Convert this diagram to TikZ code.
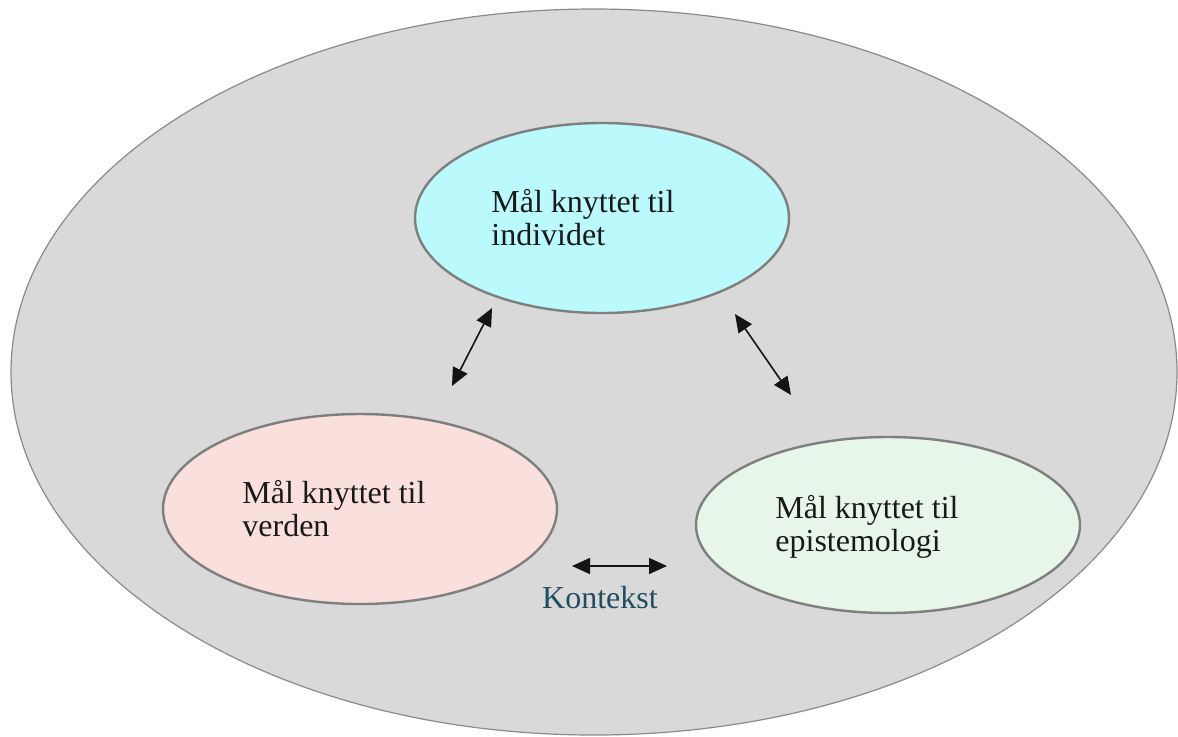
\documentclass[tikz,border=0pt]{standalone}
\usepackage{fontspec}
\setmainfont{Liberation Serif}
\usetikzlibrary{arrows.meta}
\definecolor{outerfill}{HTML}{D9D9D9}
\definecolor{outerdraw}{HTML}{8A8A8A}
\definecolor{ringdraw}{HTML}{7F7F7F}
\definecolor{cyanfill}{HTML}{BAF9FC}
\definecolor{pinkfill}{HTML}{F9E0DC}
\definecolor{greenfill}{HTML}{E8F6EA}
\definecolor{kontekst}{HTML}{1D4F60}
\definecolor{arrowcol}{HTML}{141414}
\tikzset{
  goal/.style={draw=ringdraw, line width=1.2pt},
  goaltext/.style={anchor=base west, inner sep=0pt, align=left, font=\fontsize{16}{16.5}\selectfont, text=black!90},
  link/.style={draw=arrowcol, line width=0.8pt, {Triangle[length=9pt,width=8pt]}-{Triangle[length=9pt,width=8pt]}}
}
\begin{document}
\begin{tikzpicture}[x=0.5pt,y=-0.5pt]
\useasboundingbox (0,0) rectangle (1178,736);
% outer context ellipse
\fill[outerfill, draw=outerdraw, line width=0.6pt] (594,372) ellipse [x radius=583, y radius=363];
% goal ellipses
\path[goal, fill=cyanfill] (602,218) ellipse [x radius=187, y radius=95];
\path[goal, fill=pinkfill] (360,509) ellipse [x radius=197, y radius=95];
\path[goal, fill=greenfill] (888,525) ellipse [x radius=192, y radius=88];
% texts (anchor = baseline of last line)
\node[goaltext] (tind) at (491,245) {Mål knyttet til\\individet};
\node[goaltext] (tver) at (242,536) {Mål knyttet til\\verden};
\node[goaltext] (tepi) at (775,551) {Mål knyttet til\\epistemologi};
\node[anchor=base, inner sep=0pt, text=kontekst, font=\fontsize{16}{16.5}\selectfont] (kont) at (600,608) {Kontekst};
% arrow end points
\coordinate (a1) at (492,308);
\coordinate (a2) at (452,386);
\coordinate (b1) at (735,314);
\coordinate (b2) at (791,395);
\coordinate (c1) at (572,566);
\coordinate (c2) at (667,566);
\draw[link] (a1) -- (a2);
\draw[link] (b1) -- (b2);
\draw[link] (c1) -- (c2);
\end{tikzpicture}
\end{document}
